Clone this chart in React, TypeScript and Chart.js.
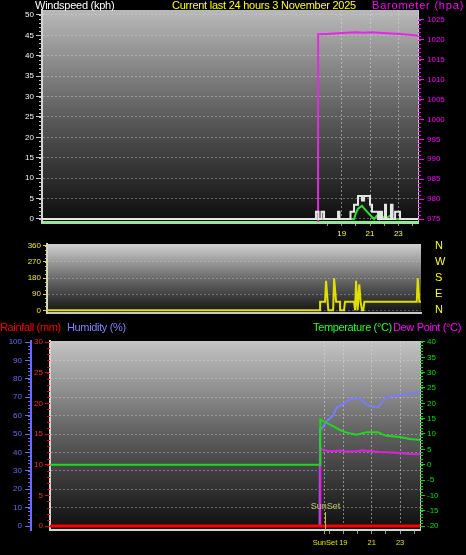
import React, { useEffect, useRef } from "react";
import { Chart, registerables } from "chart.js";

Chart.register(...registerables);

const FONT = "'Liberation Sans', Arial, sans-serif";

// ---------- Panel 1: wind speed (kph) + barometer (hPa) ----------
const windTicks = [0, 5, 10, 15, 20, 25, 30, 35, 40, 45, 50];
const baroTicks = [975, 980, 985, 990, 995, 1000, 1005, 1010, 1015, 1020, 1025];
const hourTicks = [18, 19, 20, 21, 22, 23, 24];
const hourLabels = [19, 21, 23];

// [hour, kph]
const windGust: [number, number][] = [
  [-2.18, 0], [17.18, 0], [17.18, 1.8], [17.36, 1.8], [17.36, 0], [17.57, 0], [17.57, 1.8], [17.75, 1.8], [17.75, 0],
  [18.74, 0], [18.74, 1.8], [18.84, 1.8], [18.84, 0], [19.62, 0], [19.62, 1.8], [19.87, 1.8], [19.87, 3.5], [20.15, 3.5],
  [20.15, 5.6], [20.43, 5.6], [20.43, 4.5], [20.58, 4.5], [20.58, 5.6], [21.0, 5.6], [21.0, 3.5], [21.14, 3.5], [21.14, 1.8],
  [21.57, 1.8], [21.57, 0], [21.71, 0], [21.71, 1.8], [21.85, 1.8], [21.85, 0], [22.06, 0], [22.06, 3.5], [22.13, 3.5],
  [22.13, 0], [22.48, 0], [22.48, 3.5], [22.59, 3.5], [22.59, 0], [22.77, 0], [22.77, 1.8], [23.12, 1.8], [23.12, 0], [24.39, 0],
];
const windAvg: [number, number][] = [
  [-2.18, 0], [19.87, 0], [20.01, 1.5], [20.15, 2.5], [20.43, 3.2], [20.58, 2.6], [20.79, 1.8], [21.0, 1.0], [21.14, 0.5],
  [21.28, 0], [21.49, 0.8], [21.64, 0], [21.78, 1.0], [21.92, 0.5], [22.06, 0], [22.41, 0.8], [22.63, 0], [24.39, 0],
];
// [hour, hPa]
const barometer: [number, number][] = [
  [-2.18, 960], [17.33, 960], [17.33, 1021.4], [18.0, 1021.5], [19.02, 1021.7], [20.0, 1021.9], [20.5, 1021.8],
  [21.12, 1021.9], [21.92, 1021.75], [23.12, 1021.5], [23.83, 1021.3], [24.39, 1021.0],
];

// ---------- Panel 2: wind direction (degrees) ----------
const dirTicks = [0, 90, 180, 270, 360];
const compassLabels = ["N", "E", "S", "W", "N"];
const windDir: [number, number][] = [
  [-1.83, 0], [17.47, 0], [17.47, 48], [17.82, 48], [17.89, 165], [18.05, 0], [18.39, 0], [18.46, 178], [18.6, 48],
  [18.88, 48], [18.88, 0], [19.16, 0], [19.23, 48], [19.87, 48], [19.94, 0], [20.01, 165], [20.12, 0], [20.24, 145],
  [20.33, 48], [20.43, 0], [20.52, 0], [20.6, 48], [24.3, 48], [24.37, 178], [24.48, 48], [24.6, 48],
];

// ---------- Panel 3: rain (mm), humidity (%), temperature / dew point (°C) ----------
const humTicks = [0, 10, 20, 30, 40, 50, 60, 70, 80, 90, 100];
const rainTicks = [0, 5, 10, 15, 20, 25, 30];
const tempTicks = [-20, -15, -10, -5, 0, 5, 10, 15, 20, 25, 30, 35, 40];
const sunsetHour = 17.71;
const bottomTicks = [17.71, 18, 19, 20, 21, 22, 23, 24];

const rainfall: [number, number][] = [[-1.655, 0], [24.4, 0]];
const humidity: [number, number][] = [
  [-1.655, 0], [17.33, 0], [17.36, 53], [17.48, 53], [17.83, 57], [18.27, 60], [18.54, 64.5], [18.89, 65.8], [19.47, 69],
  [20.18, 69.4], [20.53, 66.7], [21.0, 64.8], [21.46, 64.5], [21.94, 69.4], [22.41, 70.7], [22.99, 71.2], [23.7, 71.7], [24.4, 73],
];
const temperature: [number, number][] = [
  [-1.655, 0], [17.36, 0], [17.38, 14.7], [17.83, 13.6], [18.27, 12.6], [18.77, 11.3], [19.12, 10.6], [19.5, 10.2], [19.94, 9.8],
  [20.3, 10.2], [20.65, 10.6], [21.44, 10.6], [21.8, 9.8], [22.06, 9.4], [22.99, 9.0], [23.7, 8.4], [24.28, 8.1], [24.4, 8.1],
];
const dewPoint: [number, number][] = [
  [-1.655, -20], [17.36, -20], [17.38, 5.2], [17.71, 4.6], [18.06, 4.4], [18.77, 4.6], [19.12, 4.3], [19.94, 4.4],
  [20.4, 4.7], [20.65, 4.5], [21.58, 4.1], [22.4, 4.0], [22.99, 3.8], [23.7, 3.5], [24.4, 3.4],
];

// ---------- helpers ----------
const pts = (a: [number, number][]) => a.map(([x, y]) => ({ x, y }));
const fixedTicks = (values: number[]) => (scale: any) => {
  scale.ticks = values.map((v) => ({ value: v }));
};
const fixWidth = (w: number) => (scale: any) => {
  scale.width = w;
};
const fixHeight = (h: number) => (scale: any) => {
  scale.height = h;
};
const tickFont = { size: 8, family: FONT };

type Minor = { id: string; from: number; to: number; step: number; len: number; color: string };

function makeDeco(cfg: { top: string; mid: string; bottom: string; minor: Minor[]; sunset?: boolean }) {
  return {
    id: "deco",
    beforeDraw(chart: any) {
      const { ctx, chartArea: a } = chart;
      const g = ctx.createLinearGradient(0, a.top, 0, a.bottom);
      g.addColorStop(0, cfg.top);
      g.addColorStop(0.5, cfg.mid);
      g.addColorStop(1, cfg.bottom);
      ctx.save();
      ctx.fillStyle = g;
      ctx.fillRect(a.left, a.top, a.right - a.left, a.bottom - a.top);
      ctx.restore();
    },
    afterDraw(chart: any) {
      const { ctx, chartArea: a } = chart;
      ctx.save();
      cfg.minor.forEach((m) => {
        const s = chart.scales[m.id];
        ctx.strokeStyle = m.color;
        ctx.lineWidth = 1;
        ctx.beginPath();
        const n = Math.round((m.to - m.from) / m.step);
        for (let i = 0; i <= n; i++) {
          const v = m.from + i * m.step;
          const y = Math.round(s.getPixelForValue(v)) + 0.5;
          const x0 = s.position === "left" ? s.right - m.len : s.left;
          ctx.moveTo(x0, y);
          ctx.lineTo(x0 + m.len, y);
        }
        ctx.stroke();
      });
      if (cfg.sunset) {
        const x = Math.round(chart.scales.x.getPixelForValue(sunsetHour)) + 0.5;
        const ly = a.bottom - 23;
        ctx.fillStyle = "#c8c864";
        ctx.font = `9px ${FONT}`;
        ctx.textAlign = "center";
        ctx.textBaseline = "middle";
        ctx.fillText("SunSet", x, ly);
        ctx.strokeStyle = "#c8c800";
        ctx.beginPath();
        ctx.moveTo(x, ly + 5);
        ctx.lineTo(x, a.bottom);
        ctx.stroke();
      }
      ctx.restore();
    },
  };
}

const line = (label: string, data: [number, number][], color: string, width = 2) => ({
  label,
  data: pts(data),
  borderColor: color,
  backgroundColor: color,
  borderWidth: width,
  pointRadius: 0,
  tension: 0,
  fill: false,
});

const baseOptions = (padTop: number) => ({
  responsive: false,
  animation: false as const,
  devicePixelRatio: 1,
  layout: { padding: { top: padTop, left: 0, right: 0, bottom: 0 } },
  plugins: { legend: { display: false }, tooltip: { enabled: false } },
  events: [] as any[],
});

function buildPanel1(): any {
  return {
    type: "line",
    data: {
      datasets: [
        { ...line("Gust", windGust, "#e6e6e6"), yAxisID: "yW" },
        { ...line("Wind", windAvg, "#30e030"), yAxisID: "yW" },
        { ...line("Barometer", barometer, "#e628e6"), yAxisID: "yB" },
      ],
    },
    options: {
      ...baseOptions(10),
      scales: {
        x: {
          type: "linear",
          min: -2.18,
          max: 24.39,
          afterBuildTicks: fixedTicks(hourTicks),
          afterFit: fixHeight(20),
          ticks: {
            color: "#ffff00",
            font: tickFont,
            padding: 3,
            maxRotation: 0,
            autoSkip: false,
            callback: (v: number) => (hourLabels.includes(v) ? String(v) : ""),
          },
          grid: {
            color: (c: any) => (c.tick && hourLabels.includes(c.tick.value) ? "rgba(215,215,215,0.55)" : "rgba(0,0,0,0)"),
            tickColor: "#9a9a9a",
            tickLength: 4,
          },
          border: { color: "#90e890", width: 3, dash: [2, 2] },
        },
        yW: {
          type: "linear",
          position: "left",
          min: -0.74,
          max: 51.2,
          afterBuildTicks: fixedTicks(windTicks),
          afterFit: fixWidth(42),
          ticks: { color: "#eef4ff", font: tickFont, padding: 2, autoSkip: false, callback: (v: number) => String(v) },
          grid: { color: "rgba(215,215,215,0.4)", tickColor: "#c8c8c8", tickLength: 6 },
          border: { color: "#d4d4d4", width: 2, dash: [2, 2] },
        },
        yB: {
          type: "linear",
          position: "right",
          min: 974.25,
          max: 1027.5,
          afterBuildTicks: fixedTicks(baroTicks),
          afterFit: fixWidth(48),
          ticks: { color: "#ff00ff", font: tickFont, padding: 3, autoSkip: false, callback: (v: number) => String(v) },
          grid: { drawOnChartArea: false, tickColor: "#ff00ff", tickLength: 6 },
          border: { color: "#c8c8c8", width: 1 },
        },
      },
    },
    plugins: [
      makeDeco({
        top: "#b9b9b9",
        mid: "#5c5c5c",
        bottom: "#0c0c0c",
        minor: [
          { id: "yW", from: 0, to: 50, step: 1, len: 3, color: "#c8c8c8" },
          { id: "yB", from: 975, to: 1025, step: 1, len: 3, color: "#ff00ff" },
        ],
      }),
    ],
  };
}

function buildPanel2(): any {
  return {
    type: "line",
    data: { datasets: [{ ...line("Direction", windDir, "#e0e000"), yAxisID: "yD" }] },
    options: {
      ...baseOptions(8),
      scales: {
        x: {
          type: "linear",
          min: -1.83,
          max: 24.6,
          afterFit: fixHeight(7),
          ticks: { display: false },
          grid: { display: false },
          border: { color: "#c8c8c8", width: 2 },
        },
        yD: {
          type: "linear",
          position: "left",
          min: -15,
          max: 369.6,
          afterBuildTicks: fixedTicks(dirTicks),
          afterFit: fixWidth(47),
          ticks: { color: "#f0f000", font: tickFont, padding: 2, autoSkip: false, callback: (v: number) => String(v) },
          grid: { color: "rgba(215,215,215,0.35)", tickColor: "#e0e000", tickLength: 4 },
          border: { color: "#d4d4d4", width: 2, dash: [2, 2] },
        },
        yC: {
          type: "linear",
          position: "right",
          min: -15,
          max: 369.6,
          afterBuildTicks: fixedTicks(dirTicks),
          afterFit: fixWidth(45),
          ticks: {
            color: "#ffff00",
            font: { size: 11, family: FONT },
            padding: 0,
            autoSkip: false,
            callback: (v: number) => compassLabels[dirTicks.indexOf(v)] ?? "",
          },
          grid: { drawOnChartArea: false, drawTicks: true, tickLength: 14, tickColor: "rgba(0,0,0,0)" },
          border: { display: false },
        },
      },
    },
    plugins: [
      makeDeco({
        top: "#cfcfcf",
        mid: "#6a6a6a",
        bottom: "#121212",
        minor: [{ id: "yD", from: 0, to: 360, step: 22.5, len: 2, color: "#e0e000" }],
      }),
    ],
  };
}

function buildPanel3(): any {
  return {
    type: "line",
    data: {
      datasets: [
        { ...line("Rainfall", rainfall, "#ff0000", 3), yAxisID: "yR" },
        { ...line("Temperature", temperature, "#20d820"), yAxisID: "yT" },
        { ...line("Dew Point", dewPoint, "#e020e0"), yAxisID: "yT" },
        { ...line("Humidity", humidity, "#7a7aff"), yAxisID: "yH" },
      ],
    },
    options: {
      ...baseOptions(11),
      scales: {
        x: {
          type: "linear",
          min: -1.655,
          max: 24.4,
          afterBuildTicks: fixedTicks(bottomTicks),
          afterFit: fixHeight(25),
          ticks: {
            color: "#e6e600",
            font: { size: 7.5, family: FONT },
            padding: 4,
            maxRotation: 0,
            autoSkip: false,
            callback: (v: number) => (v === sunsetHour ? "SunSet" : hourLabels.includes(v) ? String(v) : ""),
          },
          grid: {
            color: (c: any) =>
              c.tick && (c.tick.value === sunsetHour || hourLabels.includes(c.tick.value))
                ? "rgba(215,215,215,0.55)"
                : "rgba(0,0,0,0)",
            tickColor: "#9a9a9a",
            tickLength: 4,
          },
          border: { color: "#d4d4d4", width: 2, dash: [2, 2] },
        },
        yH: {
          type: "linear",
          position: "left",
          weight: 1,
          min: -2.17,
          max: 100.55,
          afterBuildTicks: fixedTicks(humTicks),
          afterFit: fixWidth(31),
          ticks: { color: "#6a6aff", font: tickFont, padding: 3, autoSkip: false, callback: (v: number) => String(v) },
          grid: { color: "rgba(215,215,215,0.4)", tickColor: "#6a6aff", tickLength: 6 },
          border: { color: "#6a6aff", width: 2, dash: [2, 2] },
        },
        yR: {
          type: "linear",
          position: "left",
          weight: 0,
          min: -0.652,
          max: 30.17,
          afterBuildTicks: fixedTicks(rainTicks),
          afterFit: fixWidth(19),
          ticks: { color: "#ff2a2a", font: tickFont, padding: 2, autoSkip: false, callback: (v: number) => String(v) },
          grid: { drawOnChartArea: false, tickColor: "#ee0000", tickLength: 5 },
          border: { color: "#d4d4d4", width: 2 },
        },
        yT: {
          type: "linear",
          position: "right",
          min: -21.3,
          max: 40.32,
          afterBuildTicks: fixedTicks(tempTicks),
          afterFit: fixWidth(46),
          ticks: { color: "#00e000", font: tickFont, padding: 2, autoSkip: false, callback: (v: number) => String(v) },
          grid: { drawOnChartArea: false, tickColor: "#00e000", tickLength: 5 },
          border: { color: "#c8c8c8", width: 1 },
        },
      },
    },
    plugins: [
      makeDeco({
        top: "#c4c4c4",
        mid: "#5e5e5e",
        bottom: "#0e0e0e",
        sunset: true,
        minor: [
          { id: "yH", from: 0, to: 100, step: 2, len: 3, color: "#6a6aff" },
          { id: "yR", from: 0, to: 30, step: 1, len: 3, color: "#ee0000" },
          { id: "yT", from: -20, to: 40, step: 1, len: 3, color: "#00e000" },
        ],
      }),
    ],
  };
}

function Panel({ top, height, build }: { top: number; height: number; build: () => any }) {
  const ref = useRef<HTMLCanvasElement>(null);
  useEffect(() => {
    const chart = new Chart(ref.current as HTMLCanvasElement, build());
    return () => chart.destroy();
  }, []);
  return (
    <canvas
      ref={ref}
      width={466}
      height={height}
      style={{ position: "absolute", left: 0, top, width: 466, height, display: "block" }}
    />
  );
}

const title = (text: string, left: number, top: number, color: string, spacing: number) => (
  <span
    style={{
      position: "absolute",
      left,
      top,
      color,
      fontSize: 11,
      lineHeight: "12px",
      letterSpacing: `${spacing}px`,
      whiteSpace: "nowrap",
      fontFamily: FONT,
    }}
  >
    {text}
  </span>
);

export default function App() {
  useEffect(() => {
    document.body.style.margin = "0";
    document.body.style.background = "#000";
  }, []);
  return (
    <div style={{ position: "fixed", left: 0, top: 0, width: 466, height: 555, background: "#000", overflow: "hidden" }}>
      <Panel top={0} height={242} build={buildPanel1} />
      <Panel top={236} height={84} build={buildPanel2} />
      <Panel top={330} height={225} build={buildPanel3} />
      {title("Windspeed (kph)", 35, -1, "#ffffff", -0.25)}
      {title("Current last 24 hours 3 November 2025", 172, -1, "#ffff00", -0.25)}
      {title("Barometer (hpa)", 372, -1, "#ff00ff", 0.8)}
      {title("Rainfall (mm)", 0, 321, "#ff0000", -0.35)}
      {title("Humidity (%)", 67, 321, "#8080ff", -0.35)}
      {title("Temperature (°C)", 313, 321, "#20ff20", -0.35)}
      {title("Dew Point (°C)", 393, 321, "#ff00ff", -0.35)}
    </div>
  );
}
